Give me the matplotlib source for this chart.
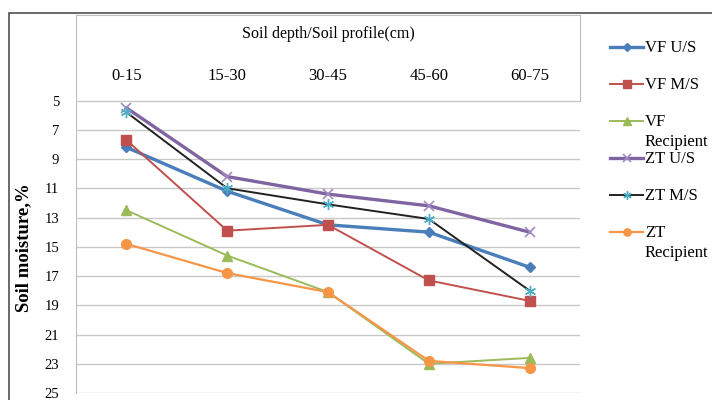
import numpy as np
import matplotlib.pyplot as plt
import matplotlib.patches as patches
from matplotlib.lines import Line2D

plt.rcParams['font.family'] = ['Liberation Serif', 'DejaVu Serif']

depths = ['0-15', '15-30', '30-45', '45-60', '60-75']

vf_us = [8.2, 11.2, 13.5, 14.0, 16.4]
vf_ms = [7.7, 13.9, 13.5, 17.3, 18.7]
vf_rec = [12.5, 15.6, 18.1, 23.0, 22.6]
zt_us = [5.5, 10.2, 11.4, 12.2, 14.0]
zt_ms = [5.8, 11.0, 12.1, 13.1, 18.0]
zt_rec = [14.8, 16.8, 18.1, 22.8, 23.3]

yticks = [5, 7, 9, 11, 13, 15, 17, 19, 21, 23, 25]

fig = plt.figure(figsize=(7.12, 4.0), dpi=100)
ax = fig.add_axes([76/712, 1 - 393/400, (580 - 76)/712, (393 - 15)/400])

# outer chart frame
fig.patches.append(patches.Rectangle((9/712, -0.05), 1.1, 1 - 13/400 + 0.05,
                                     transform=fig.transFigure, fill=False,
                                     edgecolor='#505050', lw=1.2))

x = np.arange(len(depths))
series = [
    ('VF U/S', vf_us, dict(color='#4A7EBB', lw=2.4, marker='D', ms=5)),
    ('VF M/S', vf_ms, dict(color='#C0504D', lw=1.4, marker='s', ms=7)),
    ('VF\nRecipient', vf_rec, dict(color='#9BBB59', lw=1.4, marker='^', ms=7)),
    ('ZT U/S', zt_us, dict(color='#8064A2', lw=2.4, marker='x', ms=7, mec='#A08CC0', mew=1.2)),
    ('ZT M/S', zt_ms, dict(color='#222222', lw=1.4, marker=(6, 2, 0), ms=8, mec='#4BACC6', mew=1.0)),
    ('ZT\nRecipient', zt_rec, dict(color='#F79646', lw=1.6, marker='o', ms=7)),
]
for name, vals, st in series:
    ax.plot(x, vals, label=name, **st)

ax.set_xlim(-0.5, 4.5)
ax.set_ylim(25, -0.85)
ax.set_yticks(yticks)
ax.yaxis.grid(True, color='#C8C8C8', lw=1.0)
ax.set_axisbelow(True)
ax.tick_params(axis='y', length=0, pad=12, labelsize=10.5)

ax.set_xticks(x)
ax.set_xticklabels(depths)
ax.xaxis.set_ticks_position('top')
ax.tick_params(axis='x', length=0, pad=-50, labelsize=12)

for s in ['left', 'top', 'right']:
    ax.spines[s].set_color('#BEBEBE')
ax.spines['bottom'].set_visible(False)
ax.spines['right'].set_bounds(-0.85, 5)

ax.text(0.5, 0.949, 'Soil depth/Soil profile(cm)', transform=ax.transAxes,
        ha='center', va='center', fontsize=11.5)

ax.set_ylabel('Soil moisture,%', fontsize=13.5, fontweight='bold')
ax.yaxis.set_label_coords(-0.086, 0.385)

# legend, Excel style: fixed slots, long names wrap below
for i, (name, vals, st) in enumerate(series):
    yl = 1 - (47 + 37 * i) / 400
    st2 = dict(st)
    st2['ms'] = st2['ms'] * 0.75
    fig.add_artist(Line2D([610/712, 626.5/712, 643/712], [yl, yl, yl],
                          markevery=[1], transform=fig.transFigure, **st2))
    fig.text(645/712, yl + 7/400, name, ha='left', va='top', fontsize=12,
             linespacing=1.3)

fig.savefig('out.png', dpi=100)
